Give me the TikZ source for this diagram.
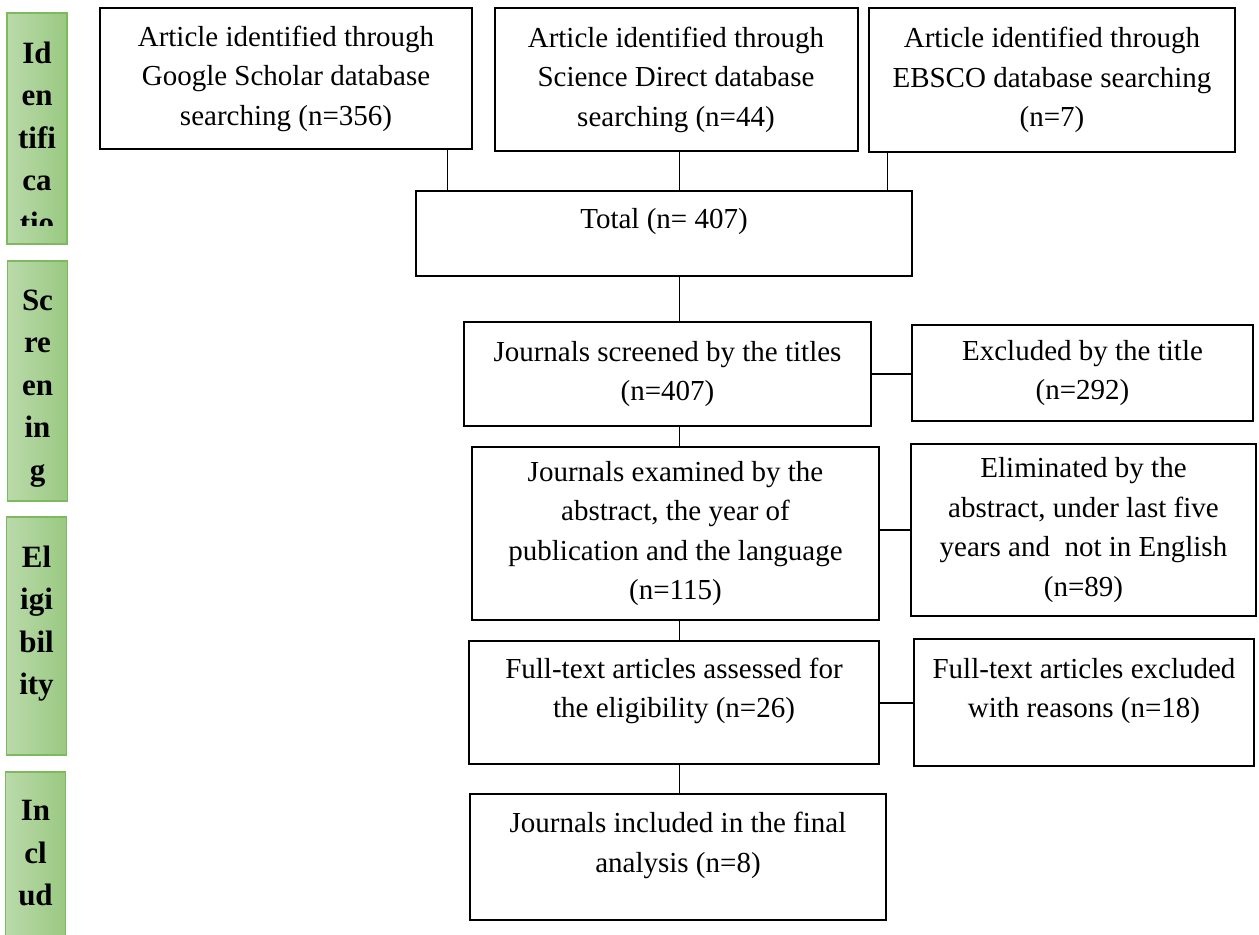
\documentclass[tikz,border=0pt]{standalone}
\usepackage{fontspec}
\setmainfont{Liberation Serif}
\definecolor{phaselight}{RGB}{186,218,170}
\definecolor{phasedark}{RGB}{154,201,130}
\definecolor{phaseline}{RGB}{125,185,95}

\begin{document}
\begin{tikzpicture}[x=0.5pt, y=-0.5pt,
box/.style={draw, line width=1pt, align=center, inner sep=0pt,
  font=\fontsize{14.5}{19.75}\selectfont},
phase/.style={draw=phaseline, line width=0.8pt, left color=phaselight, right color=phasedark,
  minimum width=30pt, inner sep=0pt},
phasetext/.style={anchor=north, align=center, inner sep=0pt,
  font=\bfseries\fontsize{15.5}{21.25}\selectfont},
link/.style={line width=0.5pt},
sidelink/.style={line width=1pt}]
\useasboundingbox (0,0) rectangle (1259,934);

\node[phase, minimum height=115.5pt] (identbar) at (37,128.5) {};
\node[phase, minimum height=120pt] (screenbar) at (37.5,381) {};
\node[phase, minimum height=119pt] (eligbar) at (36.5,636) {};
\node[phase, minimum height=94pt] (inclbar) at (35.5,866) {};
\begin{scope}
\clip (identbar.north west) rectangle ([yshift=9.5pt]identbar.south east);
\node[phasetext] (identlabel) at ([yshift=-14.5pt]identbar.north) {Id\\en\\tifi\\ca\\tio};
\end{scope}
\node[phasetext] (screenlabel) at ([yshift=-14.5pt]screenbar.north) {Sc\\re\\en\\in\\g};
\node[phasetext] (eliglabel) at ([yshift=-14.5pt]eligbar.north) {El\\igi\\bil\\ity};
\node[phasetext] (incllabel) at ([yshift=-14.5pt]inclbar.north) {In\\cl\\ud};

\node[box, minimum width=186pt, minimum height=70.5pt] (google) at (286,78.5)
  {Article identified through\\Google Scholar database\\searching (n=356)};
\node[box, minimum width=181.5pt, minimum height=71.5pt] (science) at (676,79.5)
  {Article identified through\\Science Direct database\\searching (n=44)};
\node[box, minimum width=183pt, minimum height=72pt] (ebsco) at (1052,80)
  {Article identified through\\EBSCO database searching\\(n=7)};
\node[box, minimum width=248pt, minimum height=42.5pt] (total) at (664,233.5)
  {Total (n= 407)\\[-5pt]~};
\node[box, minimum width=203.5pt, minimum height=52pt] (screen) at (667.5,374)
  {Journals screened by the titles\\(n=407)};
\node[box, minimum width=170.5pt, minimum height=48pt] (extitle) at (1082.5,373)
  {Excluded by the title\\(n=292)};
\node[box, minimum width=203.5pt, minimum height=86.5pt] (examine) at (675.5,533.5)
  {Journals examined by the\\abstract, the year of\\publication and the language\\(n=115)};
\node[box, minimum width=172.5pt, minimum height=86pt] (elim) at (1083.5,530)
  {Eliminated by the\\abstract, under last five\\years and\ \ not in English\\(n=89)};
\node[box, minimum width=205pt, minimum height=61.5pt] (fulltext) at (674,702.5)
  {Full-text articles assessed for\\the eligibility (n=26)\\[-5pt]~};
\node[box, minimum width=170pt, minimum height=63.5pt] (exfull) at (1084,702.5)
  {Full-text articles excluded\\with reasons (n=18)\\[-5pt]~};
\node[box, minimum width=208pt, minimum height=63pt] (final) at (678,857)
  {Journals included in the final\\analysis (n=8)\\[-5pt]~};

\coordinate (trunk) at (679,0);
\draw[link] ([xshift=-13pt]google.south east) -- ([xshift=-13pt]google.south east |- total.north);
\draw[link] (science.south -| trunk) -- (total.north -| trunk);
\draw[link] ([xshift=9.5pt]ebsco.south west) -- ([xshift=9.5pt]ebsco.south west |- total.north);
\draw[link] (total.south -| trunk) -- (screen.north -| trunk);
\draw[link] (screen.south -| trunk) -- (examine.north -| trunk);
\draw[link] (examine.south -| trunk) -- (fulltext.north -| trunk);
\draw[link] (fulltext.south -| trunk) -- (final.north -| trunk);
\draw[sidelink] (screen.east) -- (screen.east -| extitle.west);
\draw[sidelink] (elim.west -| examine.east) -- (elim.west);
\draw[sidelink] (fulltext.east) -- (fulltext.east -| exfull.west);
\end{tikzpicture}
\end{document}
